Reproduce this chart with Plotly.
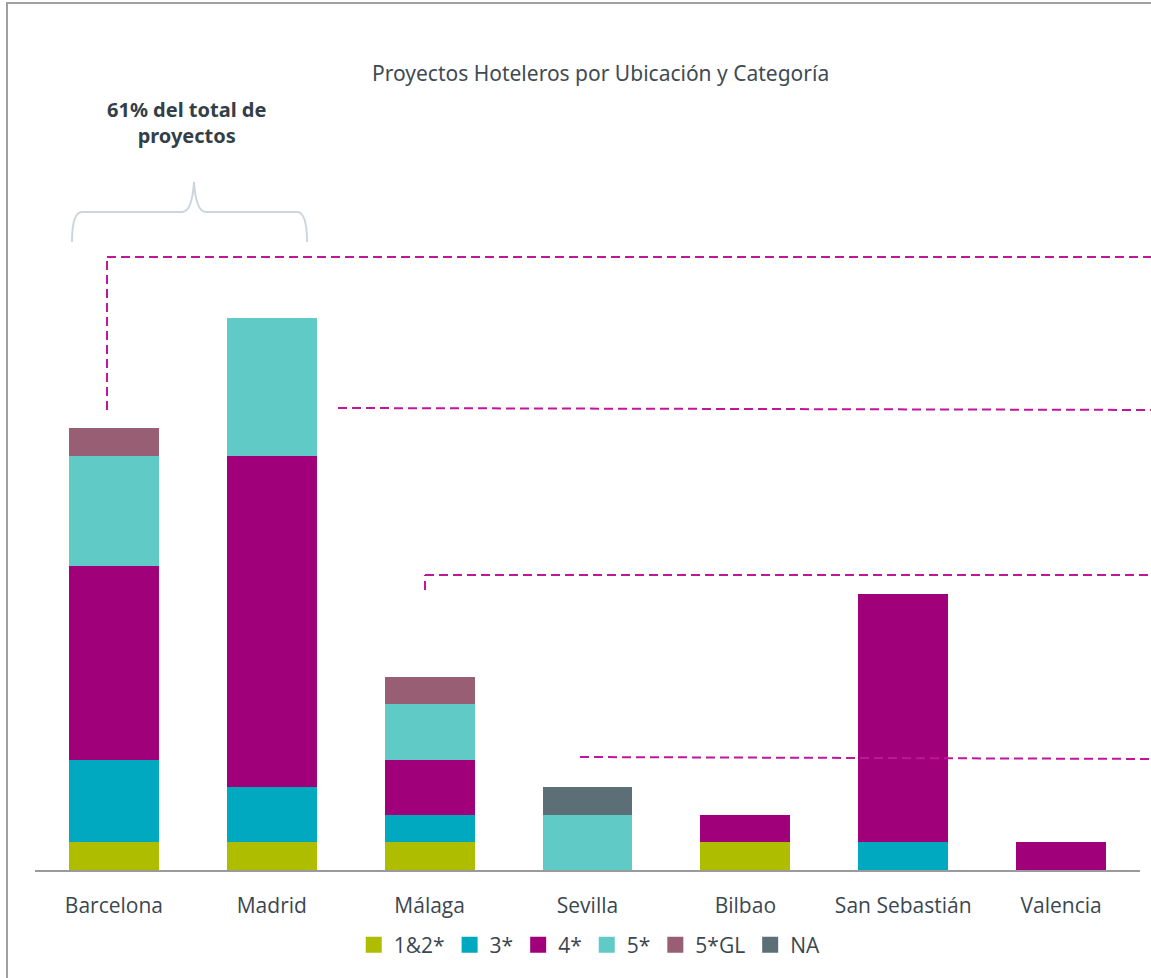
import plotly.graph_objects as go

cities = ["Barcelona", "Madrid", "Málaga", "Sevilla", "Bilbao", "San Sebastián", "Valencia"]
s12 = [1, 1, 1, 0, 1, 0, 0]
s3 = [3, 2, 1, 0, 0, 1, 0]
s4 = [7, 12, 2, 0, 1, 9, 1]
s5 = [4, 5, 2, 2, 0, 0, 0]
s5gl = [1, 0, 1, 0, 0, 0, 0]
sna = [0, 0, 0, 1, 0, 0, 0]
series_names = ["1&2*", "3*", "4*", "5*", "5*GL", "NA"]
series_vals = [s12, s3, s4, s5, s5gl, sna]
colors = ["#AEBD00", "#00A9BF", "#A0007A", "#60CAC6", "#985E73", "#5C6F76"]

W, H = 1151, 978
ML, MR, MT, MB = 35, 11, 42, 108
YMAX = 30
PW = W - ML - MR
PH = H - MT - MB

def px(x):
    return (x - ML) / PW

def py(y):
    return (H - MB - y) / PH

fig = go.Figure()
for name, vals, col in zip(series_names, series_vals, colors):
    fig.add_trace(go.Bar(x=cities, y=vals, name=name, showlegend=False,
                         marker=dict(color=col, line=dict(width=0))))
# legend entries with larger square symbols
for name, col in zip(series_names, colors):
    fig.add_trace(go.Scatter(x=[None], y=[None], mode="markers", name=name,
                             marker=dict(symbol="square", size=16, color=col)))

text_col = "#3B4750"
tick_font = "Open Sans, Noto Sans, sans-serif"
fig.update_layout(
    width=W, height=H, autosize=False,
    barmode="stack",
    bargap=0.43,
    margin=dict(l=ML, r=MR, t=MT, b=MB),
    plot_bgcolor="white", paper_bgcolor="white",
    font=dict(family=tick_font, color=text_col),
    xaxis=dict(showline=True, linecolor="#9A9A9A", linewidth=2, ticks="", showgrid=False,
               tickfont=dict(size=21, color=text_col, family=tick_font), ticklabelstandoff=16),
    yaxis=dict(range=[0, YMAX], visible=False, showgrid=False),
    showlegend=True,
    legend=dict(orientation="h", x=0.502, xanchor="center", y=py(945), yanchor="middle",
                font=dict(size=21, color=text_col, family=tick_font), traceorder="normal",
                itemsizing="trace", itemwidth=30, tracegroupgap=0),
)

fig.add_annotation(text="Proyectos Hoteleros por Ubicación y Categoría", xref="paper", yref="paper",
                   x=px(600), y=py(73), xanchor="center", yanchor="middle", showarrow=False,
                   font=dict(size=21, color="#3F4B54", family="Noto Sans, sans-serif"))
fig.add_annotation(text="<b>61% del total de<br>proyectos</b>", xref="paper", yref="paper",
                   x=px(187), y=py(123), xanchor="center", yanchor="middle", showarrow=False,
                   font=dict(size=20, color="#333F48", family="Noto Sans, sans-serif"))

# frame
fig.add_shape(type="rect", xref="paper", yref="paper", x0=px(7), y0=py(995), x1=px(1170), y1=py(3),
              line=dict(color="#A0A0A0", width=2), layer="below")

# brace
brace_pts = [(72, 242), (72, 212), (82, 212), (182, 212), (192, 212), (194, 182), (196, 212),
             (206, 212), (297, 212), (307, 212), (307, 242)]
p = [(px(a), py(b)) for a, b in brace_pts]
path = (f"M {p[0][0]},{p[0][1]} Q {p[1][0]},{p[1][1]} {p[2][0]},{p[2][1]} L {p[3][0]},{p[3][1]} "
        f"Q {p[4][0]},{p[4][1]} {p[5][0]},{p[5][1]} Q {p[6][0]},{p[6][1]} {p[7][0]},{p[7][1]} "
        f"L {p[8][0]},{p[8][1]} Q {p[9][0]},{p[9][1]} {p[10][0]},{p[10][1]}")
fig.add_shape(type="path", xref="paper", yref="paper", path=path, line=dict(color="#CDD5DC", width=2))

# dashed leader lines
mag = dict(color="#C0169C", width=2, dash="9px,5px")
leaders = [
    [(107, 410), (107, 257), (1160, 257)],
    [(338, 408), (1160, 410)],
    [(425, 590), (425, 575), (1160, 575)],
    [(580, 757), (1160, 759)],
]
for pts in leaders:
    for (a, b), (c, d) in zip(pts[:-1], pts[1:]):
        fig.add_shape(type="line", xref="paper", yref="paper", x0=px(a), y0=py(b), x1=px(c), y1=py(d), line=mag)

fig.write_html("out.html", config={"displayModeBar": False},
               post_script="document.body.style.margin='0';document.body.style.overflow='hidden';")
